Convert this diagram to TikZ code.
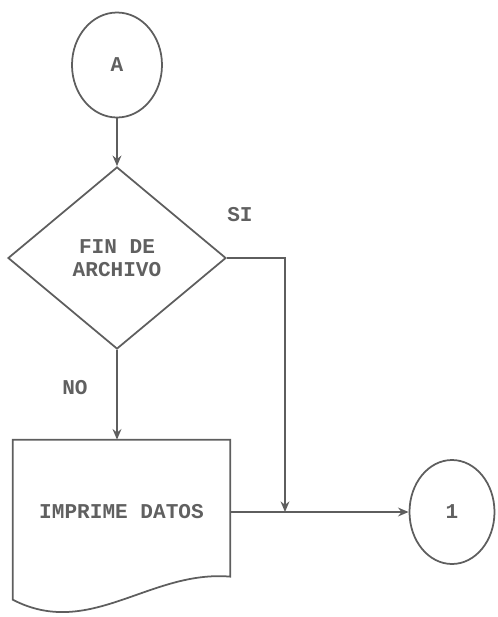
\documentclass[tikz,border=0pt]{standalone}
\usepackage{xcolor}
\usepackage{fontspec}
\usepackage{tikz}
\usetikzlibrary{shapes.geometric,arrows.meta}
\newfontfamily\dotfont{Liberation Mono}

\begin{document}
\begin{tikzpicture}[
  linea/.style={draw=lineGray, line width=1pt},
  flecha/.style={linea, -{Stealth[length=6pt,width=5pt]}},
  conector/.style={linea, ellipse, inner sep=0pt},
  testo/.style={font=\dotfont\bfseries\fontsize{12}{13}\selectfont, text=textGray}
]

% Colori
\definecolor{lineGray}{HTML}{5E5E5E}
\definecolor{textGray}{HTML}{606060}

% Area del disegno
\useasboundingbox (0,0) rectangle (9.96,-12.34);

% Connettore A
\node[conector, testo, minimum width=1.8cm, minimum height=2.1cm] (conA) at (2.34,-1.3) {A};

% Decisione
\node[linea, diamond, aspect=1.2, inner sep=0pt, minimum width=4.36cm, minimum height=3.64cm,
      testo, align=center] (fin) at (2.34,-5.16) {FIN DE\\ARCHIVO};

% Documento
\node[testo, minimum width=4.34cm, minimum height=2.88cm] (doc) at (2.43,-10.24) {IMPRIME DATOS};
\draw[linea] (doc.north west) -- ([yshift=-3.2cm]doc.north west)
  .. controls ([xshift=1.54cm,yshift=-4.0cm]doc.north west) and ([xshift=2.74cm,yshift=-2.6cm]doc.north west)
  .. ([yshift=-2.74cm]doc.north east) -- (doc.north east) -- cycle;

% Connettore 1
\node[conector, testo, minimum width=1.7cm, minimum height=2.08cm] (con1) at (9.04,-10.24) {1};

% Punto di unione
\coordinate (unione) at (5.7,-10.24);

% Etichette
\node[testo] (si) at (4.8,-4.3) {SI};
\node[testo] (no) at (1.5,-7.76) {NO};

% Flussi
\draw[flecha] (conA.south) -- (fin.north);
\draw[flecha] (fin.south) -- (fin.south |- doc.north);
\draw[flecha] (fin.east) -| (unione);
\draw[flecha] (doc.east) -- (con1.west);

\end{tikzpicture}
\end{document}
